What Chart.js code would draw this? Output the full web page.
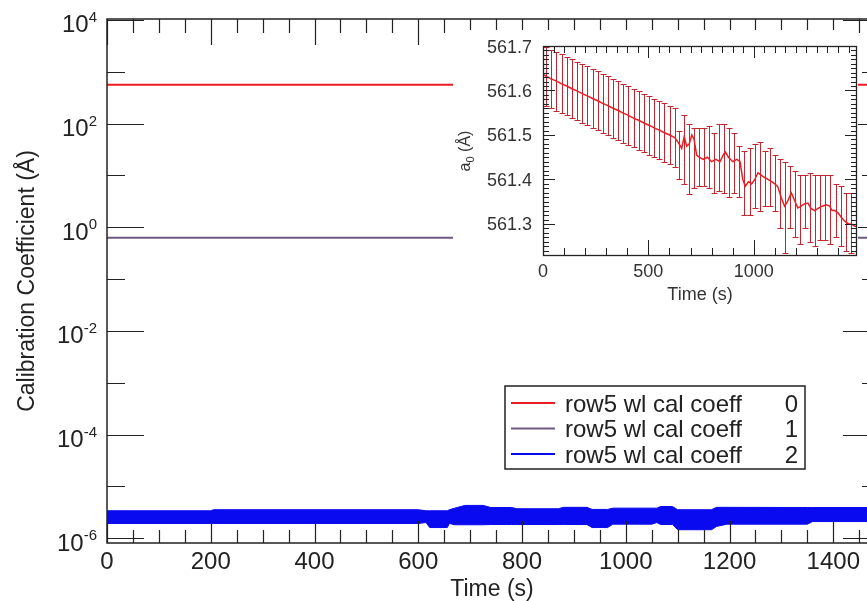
<!DOCTYPE html>
<html><head><meta charset="utf-8">
<script src="https://cdn.jsdelivr.net/npm/chart.js@4.4.1/dist/chart.umd.min.js"></script>
<style>
html,body{margin:0;padding:0;background:#fff;overflow:hidden;width:867px;height:601px;}
#w1{position:absolute;left:0;top:0;width:900px;height:601px;}
#w2{position:absolute;left:453px;top:30px;width:405px;height:280px;}
</style></head>
<body>
<div id="w1"><canvas id="main" width="900" height="601"></canvas></div>
<div id="w2"><canvas id="inset" width="405" height="280"></canvas></div>
<script>
// ---------------- data ----------------
const mainXTicks = [0, 200, 400, 600, 800, 1000, 1200, 1400];
const mainYExps = [4, 2, 0, -2, -4, -6];
const mainYMinorExps = [3, 1, -1, -3, -5];
const insetXTicks = [0, 500, 1000];
const insetYTicks = [561.3, 561.4, 561.5, 561.6, 561.7];

const seriesLabels = ['row5 wl cal coeff 0', 'row5 wl cal coeff 1', 'row5 wl cal coeff 2'];

// coefficient 0 (Å), centre values
const coeff0Time = [0, 15, 39, 64, 88, 113, 137, 161, 186, 210, 235, 259, 283, 308, 332, 357, 381, 405, 430, 454,
  479, 503, 527, 552, 576, 601, 625, 646, 658, 670, 682, 694, 706, 717, 729, 741, 760, 780, 800, 820, 840, 855,
  865, 880, 900, 920, 935, 948, 960, 975, 990, 1005, 1020, 1035, 1050, 1067, 1085, 1100, 1114, 1130, 1146, 1160,
  1178, 1192, 1209, 1225, 1240, 1257, 1272, 1289, 1305, 1325, 1344, 1360, 1372, 1384, 1400, 1415, 1432, 1450,
  1463, 1480, 1490];
const coeff0Val = [561.637, 561.632, 561.626, 561.621, 561.615, 561.610, 561.604, 561.599, 561.593, 561.588,
  561.582, 561.577, 561.571, 561.566, 561.560, 561.555, 561.549, 561.544, 561.538, 561.533, 561.527, 561.522,
  561.516, 561.511, 561.505, 561.500, 561.494, 561.480, 561.470, 561.496, 561.475, 561.480, 561.500, 561.490,
  561.455, 561.450, 561.445, 561.450, 561.440, 561.445, 561.440, 561.455, 561.462, 561.450, 561.440, 561.445,
  561.440, 561.400, 561.385, 561.395, 561.390, 561.400, 561.415, 561.410, 561.405, 561.400, 561.395, 561.390,
  561.384, 561.360, 561.340, 561.350, 561.370, 561.355, 561.336, 561.340, 561.345, 561.347, 561.335, 561.330,
  561.335, 561.340, 561.343, 561.340, 561.330, 561.330, 561.325, 561.315, 561.306, 561.300, 561.300, 561.295,
  561.295];

// coefficient 0 error bars
const errTime = [15, 39, 64, 88, 113, 137, 161, 186, 210, 235, 259, 283, 308, 332, 357, 381, 405, 430, 454, 479,
  503, 527, 552, 576, 601, 625, 646, 670, 694, 717, 741, 765, 789, 813, 837, 860, 884, 908, 932, 956, 980, 1004,
  1028, 1052, 1076, 1100, 1124, 1148, 1172, 1196, 1220, 1244, 1268, 1292, 1316, 1340, 1364, 1388, 1412, 1436,
  1460, 1484];
const errLo = [561.566, 561.560, 561.555, 561.549, 561.544, 561.538, 561.533, 561.527, 561.522, 561.516, 561.511,
  561.505, 561.500, 561.494, 561.489, 561.483, 561.478, 561.472, 561.467, 561.461, 561.456, 561.450, 561.445,
  561.439, 561.434, 561.428, 561.400, 561.390, 561.367, 561.380, 561.385, 561.385, 561.380, 561.370, 561.375,
  561.370, 561.360, 561.370, 561.360, 561.320, 561.320, 561.335, 561.330, 561.340, 561.340, 561.330, 561.290,
  561.235, 561.290, 561.270, 561.255, 561.290, 561.260, 561.250, 561.265, 561.265, 561.255, 561.270, 561.250,
  561.240, 561.235, 561.230];
const errHi = [561.698, 561.692, 561.687, 561.681, 561.676, 561.670, 561.665, 561.659, 561.654, 561.648, 561.643,
  561.637, 561.632, 561.626, 561.621, 561.615, 561.610, 561.604, 561.599, 561.593, 561.588, 561.582, 561.577,
  561.571, 561.566, 561.560, 561.510, 561.545, 561.525, 561.515, 561.515, 561.515, 561.520, 561.505, 561.525,
  561.525, 561.515, 561.505, 561.475, 561.465, 561.470, 561.480, 561.485, 561.465, 561.470, 561.455, 561.445,
  561.440, 561.430, 561.420, 561.410, 561.410, 561.415, 561.410, 561.410, 561.410, 561.410, 561.390, 561.385,
  561.370, 561.370, 561.370];

// coefficient 1
const coeff1Time = [0, 700, 1490];
const coeff1Val = [0.63, 0.63, 0.63];

// coefficient 2 band (upper / lower envelope)
const coeff2Time = [0, 200, 205, 600, 615, 622, 656, 660, 670, 690, 725, 740, 780, 790, 870, 880, 925, 935, 965,
  975, 1050, 1060, 1067, 1090, 1100, 1165, 1175, 1195, 1350, 1360, 1490];
const coeff2Hi = [3.39e-6, 3.39e-6, 3.55e-6, 3.55e-6, 3.39e-6, 3.39e-6, 3.39e-6, 3.55e-6, 3.8e-6, 4.3e-6, 4.3e-6,
  3.92e-6, 3.92e-6, 3.71e-6, 3.71e-6, 3.95e-6, 3.95e-6, 3.6e-6, 3.6e-6, 3.81e-6, 3.81e-6, 3.81e-6, 4.1e-6, 4.1e-6,
  3.55e-6, 3.55e-6, 3.95e-6, 3.95e-6, 3.92e-6, 3.92e-6, 3.92e-6];
const coeff2Lo = [1.93e-6, 1.93e-6, 1.93e-6, 1.93e-6, 2.01e-6, 1.61e-6, 1.61e-6, 1.93e-6, 1.82e-6, 1.82e-6, 1.82e-6,
  1.84e-6, 1.84e-6, 1.84e-6, 1.84e-6, 1.84e-6, 1.84e-6, 1.61e-6, 1.61e-6, 1.87e-6, 1.87e-6, 2.01e-6, 1.84e-6,
  1.84e-6, 1.46e-6, 1.46e-6, 1.69e-6, 1.87e-6, 1.87e-6, 2.1e-6, 2.1e-6];

// ---------------- styles ----------------
const FONT = "'Liberation Sans', Arial, Helvetica, sans-serif";
const RED = '#ec1c24', PURPLE = '#6e5a7e', BLUE = '#0a0af0', ERR = '#c2262e', INK = '#222';
const pts = (xs, ys) => xs.map((t, i) => ({x: t, y: ys[i]}));

function seg(ctx, x1, y1, x2, y2) { ctx.moveTo(x1, y1); ctx.lineTo(x2, y2); }

// ---------------- main chart ----------------
const mainDeco = {
  id: 'mainDeco',
  afterDatasetsDraw(chart) {
    const {ctx, chartArea: a, scales: {x, y}} = chart;
    ctx.save();
    ctx.strokeStyle = INK;
    ctx.lineWidth = 1.2;
    ctx.beginPath();
    x.ticks.forEach(t => {
      const px = Math.round(x.getPixelForValue(t.value)) + 0.5;
      seg(ctx, px, a.bottom, px, a.bottom - 22);
      seg(ctx, px, a.top, px, a.top + 26);
    });
    for (let v = 50; v < x.max; v += 50) {
      if (mainXTicks.includes(v)) continue;
      const px = Math.round(x.getPixelForValue(v)) + 0.5;
      seg(ctx, px, a.bottom, px, a.bottom - 13);
      seg(ctx, px, a.top, px, a.top + 14);
    }
    y.ticks.forEach(t => {
      const py = Math.round(y.getPixelForValue(t.value)) + 0.5;
      seg(ctx, a.left, py, a.left + 37, py);
      seg(ctx, a.right, py, a.right - 37, py);
    });
    mainYMinorExps.forEach(e => {
      const py = Math.round(y.getPixelForValue(Math.pow(10, e))) + 0.5;
      seg(ctx, a.left, py, a.left + 18, py);
      seg(ctx, a.right, py, a.right - 18, py);
    });
    ctx.stroke();
    ctx.lineWidth = 1.5;
    ctx.strokeRect(a.left, a.top, a.right - a.left, a.bottom - a.top);

    // tick labels
    ctx.fillStyle = INK;
    ctx.textBaseline = 'alphabetic';
    ctx.font = '24px ' + FONT;
    ctx.textAlign = 'center';
    x.ticks.forEach(t => ctx.fillText(String(t.value), x.getPixelForValue(t.value), a.bottom + 25.5));
    ctx.textAlign = 'left';
    y.ticks.forEach(t => {
      const py = y.getPixelForValue(t.value);
      const ex = String(Math.round(Math.log10(t.value)));
      ctx.font = '15px ' + FONT;
      const w2 = ctx.measureText(ex).width;
      ctx.fillText(ex, 97 - w2, py + 2);
      ctx.font = '24px ' + FONT;
      const w1 = ctx.measureText('10').width;
      ctx.fillText('10', 97 - w2 - w1, py + 12.5);
    });

    // axis titles
    ctx.font = '23px ' + FONT;
    ctx.textAlign = 'center';
    ctx.fillText(chart.options.scales.x.title.text, 492, 596);
    ctx.save();
    ctx.translate(34, (a.top + a.bottom) / 2);
    ctx.rotate(-Math.PI / 2);
    ctx.fillText(chart.options.scales.y.title.text, 0, 0);
    ctx.restore();

    // legend
    const L = {x: 505, y: 386, w: 300, h: 83};
    ctx.fillStyle = '#fff';
    ctx.fillRect(L.x, L.y, L.w, L.h);
    ctx.lineWidth = 1.5;
    ctx.strokeStyle = INK;
    ctx.strokeRect(L.x, L.y, L.w, L.h);
    const rows = chart.data.datasets.filter(d => d.legendRow !== undefined);
    ctx.font = '24px ' + FONT;
    rows.forEach(d => {
      const r = d.legendRow;
      const ly = 403 + r * 25.5;
      ctx.strokeStyle = d.borderColor;
      ctx.lineWidth = 2;
      ctx.beginPath(); seg(ctx, 511, ly, 555, ly); ctx.stroke();
      const k = d.label.lastIndexOf(' ');
      ctx.fillStyle = INK;
      ctx.textAlign = 'left';
      ctx.fillText(d.label.slice(0, k), 565, ly + 8.5);
      ctx.textAlign = 'right';
      ctx.fillText(d.label.slice(k + 1), 798, ly + 8.5);
    });
    ctx.restore();
  }
};

new Chart(document.getElementById('main'), {
  type: 'line',
  data: {
    datasets: [
      {label: seriesLabels[0], legendRow: 0, data: pts(coeff0Time, coeff0Val), borderColor: RED, borderWidth: 2, pointRadius: 0, fill: false},
      {label: seriesLabels[1], legendRow: 1, data: pts(coeff1Time, coeff1Val), borderColor: PURPLE, borderWidth: 2, pointRadius: 0, fill: false},
      {label: seriesLabels[2], legendRow: 2, data: pts(coeff2Time, coeff2Hi), borderColor: BLUE, backgroundColor: BLUE, borderWidth: 1, pointRadius: 0, fill: '+1'},
      {label: seriesLabels[2] + ' low', data: pts(coeff2Time, coeff2Lo), borderColor: BLUE, borderWidth: 1, pointRadius: 0, fill: false}
    ]
  },
  options: {
    responsive: false, animation: false, events: [],
    layout: {padding: {left: 0, top: 19, right: 20, bottom: 0}},
    plugins: {legend: {display: false}, tooltip: {enabled: false}},
    scales: {
      x: {type: 'linear', min: 0, max: 1490,
        grid: {display: false}, border: {display: false}, ticks: {display: false},
        title: {display: false, text: 'Time (s)'},
        afterBuildTicks: s => { s.ticks = mainXTicks.map(v => ({value: v})); },
        afterFit: s => { s.height = 58; }},
      y: {type: 'logarithmic', min: 8.1e-7, max: 1.04e4,
        grid: {display: false}, border: {display: false}, ticks: {display: false},
        title: {display: false, text: 'Calibration Coefficient (Å)'},
        afterBuildTicks: s => { s.ticks = mainYExps.map(e => ({value: Math.pow(10, e)})); },
        afterFit: s => { s.width = 107; }}
    }
  },
  plugins: [mainDeco]
});

// ---------------- inset chart ----------------
const insetDeco = {
  id: 'insetDeco',
  beforeDraw(chart) {
    const c = chart.ctx; c.save(); c.fillStyle = '#fff'; c.fillRect(0, 0, chart.width, chart.height); c.restore();
  },
  beforeDatasetsDraw(chart) {
    const {ctx, chartArea: a, scales: {x, y}} = chart;
    ctx.save();
    ctx.beginPath(); ctx.rect(a.left, a.top - 1, a.right - a.left, a.bottom - a.top + 2); ctx.clip();
    ctx.strokeStyle = ERR; ctx.lineWidth = 1;
    ctx.beginPath();
    errTime.forEach((t, i) => {
      const px = Math.round(x.getPixelForValue(t)) + 0.5;
      const y1 = Math.round(y.getPixelForValue(errLo[i])) + 0.5;
      const y2 = Math.round(y.getPixelForValue(errHi[i])) + 0.5;
      seg(ctx, px, y1, px, y2);
      seg(ctx, px - 3, y1, px + 3, y1);
      seg(ctx, px - 3, y2, px + 3, y2);
    });
    ctx.stroke();
    ctx.restore();
  },
  afterDatasetsDraw(chart) {
    const {ctx, chartArea: a, scales: {x, y}} = chart;
    ctx.save();
    ctx.strokeStyle = INK; ctx.lineWidth = 1;
    ctx.beginPath();
    x.ticks.forEach(t => {
      const px = Math.round(x.getPixelForValue(t.value)) + 0.5;
      seg(ctx, px, a.bottom, px, a.bottom - 16);
      seg(ctx, px, a.top, px, a.top + 12);
    });
    for (let v = 50; v < x.max; v += 50) {
      if (insetXTicks.includes(v)) continue;
      const px = Math.round(x.getPixelForValue(v)) + 0.5;
      if (v % 100 === 0) seg(ctx, px, a.bottom, px, a.bottom - 8);
      seg(ctx, px, a.top, px, a.top + 7);
    }
    for (let k = 561.23; k <= 561.7001; k += 0.01) {
      const py = Math.round(y.getPixelForValue(k)) + 0.5;
      seg(ctx, a.left, py, a.left + 6, py);
      seg(ctx, a.right, py, a.right - 6, py);
    }
    y.ticks.forEach(t => {
      const py = Math.round(y.getPixelForValue(t.value)) + 0.5;
      seg(ctx, a.left, py, a.left + 12, py);
      seg(ctx, a.right, py, a.right - 12, py);
    });
    ctx.stroke();
    ctx.lineWidth = 1.3;
    ctx.strokeRect(a.left + 0.5, a.top + 0.5, a.right - a.left - 1, a.bottom - a.top - 1);

    ctx.fillStyle = '#333';
    ctx.font = '18px ' + FONT;
    ctx.textBaseline = 'alphabetic';
    ctx.textAlign = 'right';
    y.ticks.forEach(t => ctx.fillText(t.value.toFixed(1), a.left - 11, y.getPixelForValue(t.value) + 6.5));
    ctx.textAlign = 'center';
    x.ticks.forEach(t => ctx.fillText(String(t.value), x.getPixelForValue(t.value), a.bottom + 21));
    ctx.fillText(chart.options.scales.x.title.text, 247, 270);

    // y title: a with subscript 0, then (Å)
    ctx.save();
    ctx.translate(17, (a.top + a.bottom) / 2);
    ctx.rotate(-Math.PI / 2);
    ctx.textAlign = 'left';
    const p1 = 'a', p2 = '0', p3 = ' (Å)';
    ctx.font = '16px ' + FONT; const w1 = ctx.measureText(p1).width, w3 = ctx.measureText(p3).width;
    ctx.font = '11px ' + FONT; const w2 = ctx.measureText(p2).width;
    let cx = -(w1 + w2 + w3) / 2;
    ctx.font = '16px ' + FONT; ctx.fillText(p1, cx, 0); cx += w1;
    ctx.font = '11px ' + FONT; ctx.fillText(p2, cx, 4); cx += w2;
    ctx.font = '16px ' + FONT; ctx.fillText(p3, cx, 0);
    ctx.restore();
    ctx.restore();
  }
};

new Chart(document.getElementById('inset'), {
  type: 'line',
  data: {
    datasets: [
      {label: seriesLabels[0], data: pts(coeff0Time, coeff0Val), borderColor: RED, borderWidth: 1.5, pointRadius: 0, fill: false}
    ]
  },
  options: {
    responsive: false, animation: false, events: [],
    layout: {padding: {left: 0, top: 16, right: 1, bottom: 0}},
    plugins: {legend: {display: false}, tooltip: {enabled: false}},
    scales: {
      x: {type: 'linear', min: 0, max: 1490,
        grid: {display: false}, border: {display: false}, ticks: {display: false},
        title: {display: false, text: 'Time (s)'},
        afterBuildTicks: s => { s.ticks = insetXTicks.map(v => ({value: v})); },
        afterFit: s => { s.height = 54; }},
      y: {type: 'linear', min: 561.228, max: 561.7,
        grid: {display: false}, border: {display: false}, ticks: {display: false},
        title: {display: false, text: 'a0 (Å)'},
        afterBuildTicks: s => { s.ticks = insetYTicks.map(v => ({value: v})); },
        afterFit: s => { s.width = 90; }}
    }
  },
  plugins: [insetDeco]
});
</script>
</body></html>
